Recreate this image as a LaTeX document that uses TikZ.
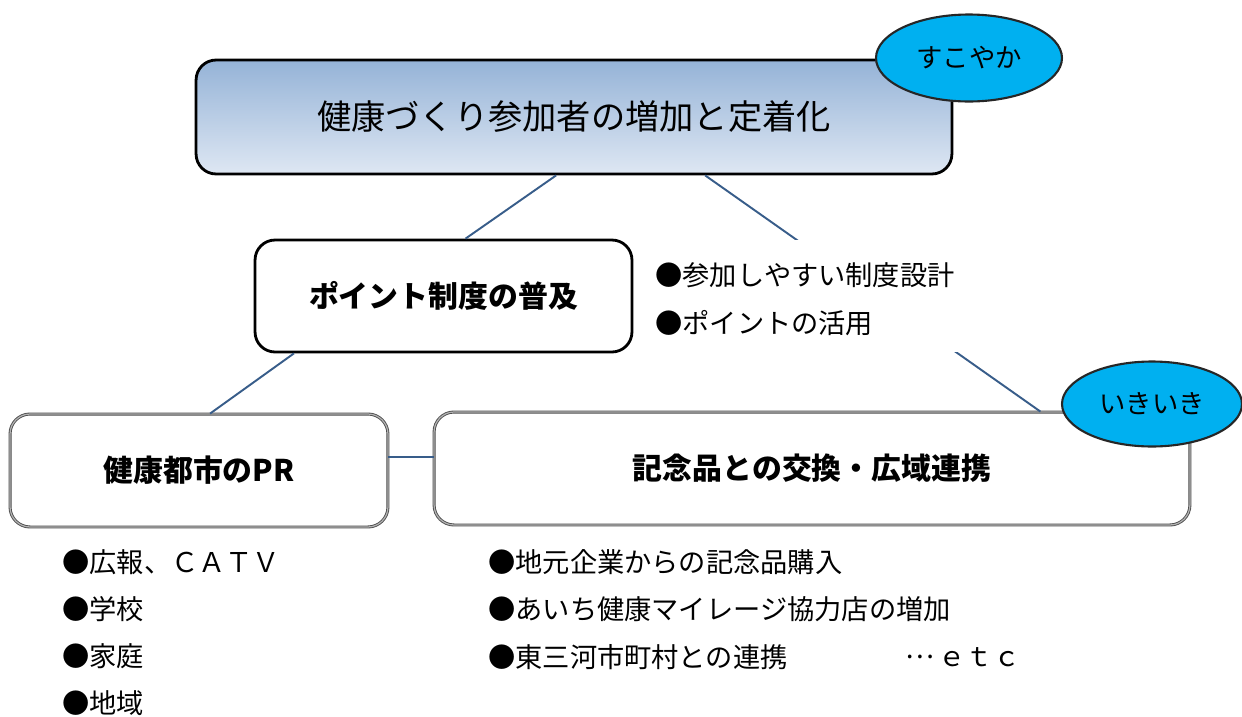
\documentclass[tikz,border=0pt]{standalone}
\usepackage{fontspec}
\setmainfont{Noto Sans CJK JP}
\usepackage{tikz}
\usetikzlibrary{shapes.geometric}

\definecolor{linie}{RGB}{56,93,138}
\definecolor{himmel}{RGB}{0,176,240}
\definecolor{kopfoben}{RGB}{149,179,215}
\definecolor{kopfunten}{RGB}{222,231,243}

\begin{document}
\begin{tikzpicture}[
  x=0.02cm, y=-0.02cm,
  box/.style = {draw, rounded corners=0.4cm, line width=1.6pt, inner sep=0pt, align=center},
  flat/.style = {box, draw=black!70, line width=0.5pt, double=black!30, double distance=0.7pt},
  oval/.style = {ellipse, draw=black!85, line width=1.2pt, fill=himmel, inner sep=0pt, font=\fontsize{15}{18}\selectfont},
  item/.style = {anchor=west, inner sep=0pt, font=\fontsize{15.5}{18}\selectfont},
  link/.style = {draw=linie, line width=1.1pt}
  ]
	\useasboundingbox (0,0) rectangle (1242,717);

	% boxes
	\node[box, top color=kopfoben, bottom color=kopfunten, minimum width=15.12cm, minimum height=2.28cm,
		font=\fontsize{19.5}{24}\selectfont] (ziel) at (574,117) {健康づくり参加者の増加と定着化};
	\node[box, fill=white, minimum width=7.54cm, minimum height=2.24cm,
		font=\bfseries\fontsize{17}{20}\selectfont] (punkte) at (443.5,296) {ポイント制度の普及};
	\node[flat, fill=white, minimum width=7.56cm, minimum height=2.26cm,
		font=\bfseries\fontsize{17}{20}\selectfont] (pr) at (199,470.5) {健康都市のPR};
	\node[flat, fill=white, minimum width=15.12cm, minimum height=2.26cm,
		font=\bfseries\fontsize{17}{20}\selectfont] (tausch) at (812,468.5) {記念品との交換・広域連携};

	% connectors
	\draw[link] (ziel.253) -- (punkte.69);
	\draw[link] (ziel.336) -- (tausch.14);
	\draw[link] (punkte.201) -- (pr.79);
	\draw[link] (pr.4) -- (pr.4 -| tausch.west);

	% text over the line
	\node[fill=white, minimum width=6.5cm, minimum height=2.24cm, anchor=north west, inner sep=0pt] (pad) at (636,240) {};
	\node[item] (p1) at (655,275) {●参加しやすい制度設計};
	\node[item] (p2) at (655,323) {●ポイントの活用};

	% lists
	\foreach \t [count=\i from 0] in {●広報、ＣＡＴＶ, ●学校, ●家庭, ●地域}
		\node[item] (l\i) at (62,562+47*\i) {\t};
	\foreach \t [count=\i from 0] in {●地元企業からの記念品購入, ●あいち健康マイレージ協力店の増加, ●東三河市町村との連携}
		\node[item] (r\i) at (488,562+47.5*\i) {\t};
	\node[item] (etc) at (905,657) {\raisebox{0.3em}{…}\,ｅｔｃ};

	% ovals
	\node[oval, minimum width=3.72cm, minimum height=1.74cm] (sk) at (969,58) {すこやか};
	\node[oval, minimum width=3.6cm, minimum height=1.7cm] (ik) at (1152,404) {いきいき};

\end{tikzpicture}
\end{document}
